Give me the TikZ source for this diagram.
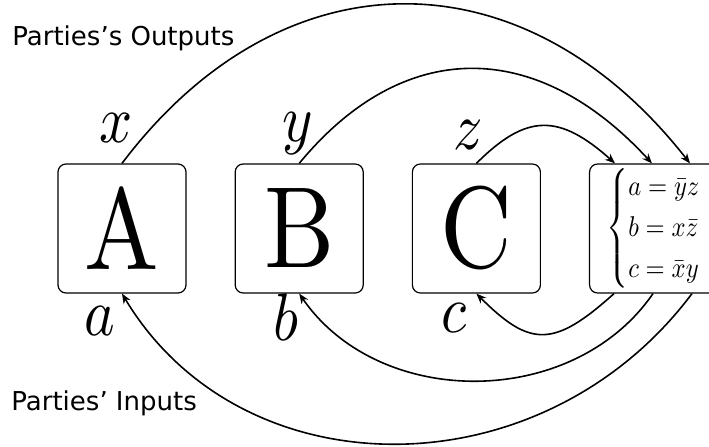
\documentclass[tikz,border=0pt]{standalone}
\usepackage{amsmath}
\usepackage{graphicx}
\usepackage{fontspec}
\newfontfamily\notefont{DejaVu Sans}
\usetikzlibrary{positioning, arrows.meta}

% Squeezed glyphs, as in the drawing
\newcommand{\bigletter}[1]{\scalebox{4.97}[5.78]{#1}}
\newcommand{\varlabel}[1]{\scalebox{2.9}[3.36]{$#1$}}

\begin{document}
\begin{tikzpicture}[
    x=1pt, y=1pt,
    % Set global spacing
    node distance=24pt,
    % Box styles
    party/.style={draw, rounded corners=4pt, line width=0.6pt, inner sep=0pt,
        minimum width=64pt, minimum height=64.5pt},
    rulebox/.style={party, minimum width=68pt},
    var/.style={anchor=base, inner sep=0pt},
    note/.style={anchor=base west, inner sep=0pt, font=\notefont\fontsize{13}{16}\selectfont},
    % Arrow style
    wire/.style={line width=0.8pt, -{Stealth[length=5pt, width=4pt]}}
]
\useasboundingbox (-61,-108.75) rectangle (293.5,114.25);

    % --- NODES ---
    \node[party] (A) at (0,0) {\bigletter{A}};
    \node[party, right=of A] (B) {\bigletter{B}};
    \node[party, right=of B] (C) {\bigletter{C}};
    \node[rulebox, right=of C] (R) {};
    \node[anchor=west, inner sep=0pt] (eq) at ([xshift=8.5pt]R.west)
        {\scalebox{1.23}[1.43]{$\begin{cases} a=\bar{y}z\\ b=x\bar{z}\\ c=\bar{x}y\end{cases}$}};

    % Outputs and inputs
    \node[var] (x) at ([xshift=-3pt, yshift=10.5pt]A.north) {\varlabel{x}};
    \node[var] (y) at ([xshift=-0.5pt, yshift=11pt]B.north) {\varlabel{y}};
    \node[var] (z) at ([xshift=-4.25pt, yshift=7pt]C.north) {\varlabel{z}};
    \node[var] (a) at ([xshift=-11.25pt, yshift=-21pt]A.south) {\varlabel{a}};
    \node[var] (b) at ([xshift=-6.75pt, yshift=-23.5pt]B.south) {\varlabel{b}};
    \node[var] (c) at ([xshift=-11.25pt, yshift=-19.5pt]C.south) {\varlabel{c}};

    \node[note] (out) at (-55,91.75) {Parties’s Outputs};
    \node[note] (in) at (-55.5,-90.75) {Parties’ Inputs};

    % --- EDGES ---
    % Outputs to the rule
    \draw[wire] (A.north) .. controls +(80,106) and +(-83,106) .. ([xshift=50.5pt]R.north west);
    \draw[wire] (B.north) .. controls +(52,63) and +(-58,63) .. ([xshift=31.5pt]R.north west);
    \draw[wire] (C.north) .. controls +(25,25) and +(-28,25) .. ([xshift=13pt]R.north west);

    % Rule back to inputs
    \draw[wire] ([xshift=51.5pt]R.south west) .. controls +(-75,-100) and +(60,-100) .. (A.south);
    \draw[wire] ([xshift=32pt]R.south west) .. controls +(-40,-58) and +(40,-58) .. (B.south);
    \draw[wire] ([xshift=12.5pt]R.south west) .. controls +(-30,-27) and +(27,-27) .. (C.south);

\end{tikzpicture}
\end{document}
